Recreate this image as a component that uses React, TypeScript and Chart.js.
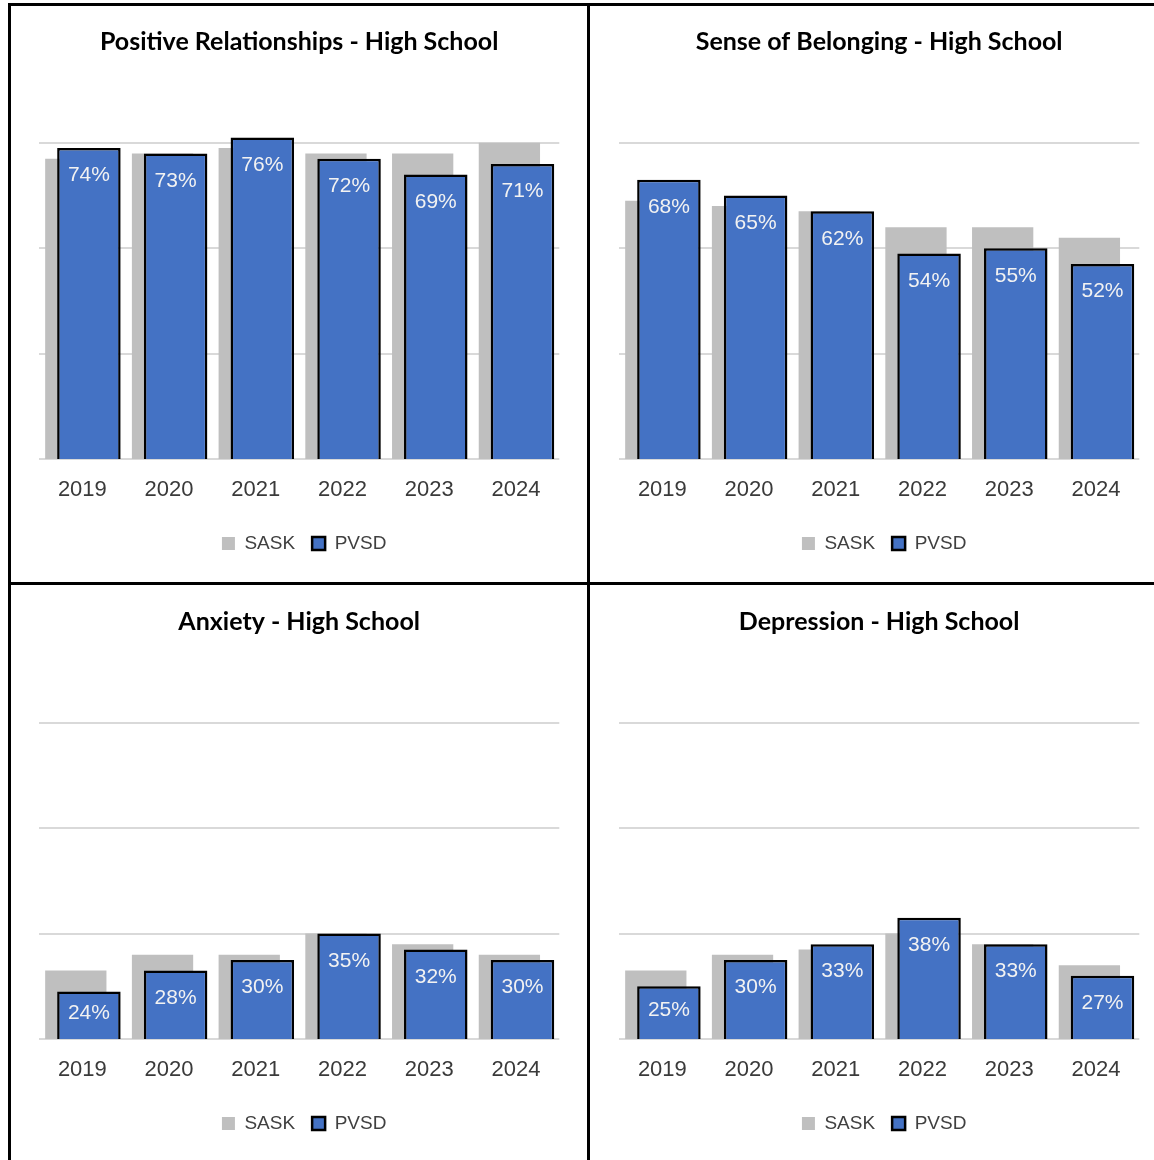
import React, { useEffect, useRef } from 'react';
import { Chart, registerables } from 'chart.js';

Chart.register(...registerables);

const years = ['2019', '2020', '2021', '2022', '2023', '2024'];
const seriesNames = ['SASK', 'PVSD'];
const gridTicks = [15, 35, 55, 75];
const axisMin = 15;
const axisMax = 80;

const relTitle = 'Positive Relationships - High School';
const relSask = [72, 73, 74, 73, 73, 75];
const relPvsd = [74, 73, 76, 72, 69, 71];

const belTitle = 'Sense of Belonging - High School';
const belSask = [64, 63, 62, 59, 59, 57];
const belPvsd = [68, 65, 62, 54, 55, 52];

const anxTitle = 'Anxiety - High School';
const anxSask = [28, 31, 31, 35, 33, 31];
const anxPvsd = [24, 28, 30, 35, 32, 30];

const depTitle = 'Depression - High School';
const depSask = [28, 31, 32, 35, 33, 29];
const depPvsd = [25, 30, 33, 38, 33, 27];

const SANS = "'Liberation Sans', Arial, sans-serif";

const pvsdLabelPlugin = {
  id: 'pvsdLabels',
  afterLayout(chart: any) {
    if (chart.legend) {
      chart.legend.left += 5;
      chart.legend.right += 5;
    }
  },
  beforeDatasetDraw(chart: any, args: any) {
    if (args.index === 1) return false;
    return undefined;
  },
  afterDatasetsDraw(chart: any) {
    const meta = chart.getDatasetMeta(1);
    const ctx = chart.ctx;
    const a = chart.chartArea;
    ctx.save();
    ctx.beginPath();
    ctx.rect(a.left, a.top - 20, a.right - a.left, a.bottom - a.top + 20);
    ctx.clip();
    meta.controller.draw();
    ctx.restore();
    ctx.save();
    ctx.font = '21px ' + SANS;
    ctx.fillStyle = '#f2f2f2';
    ctx.textAlign = 'center';
    ctx.textBaseline = 'middle';
    meta.data.forEach((bar: any, i: number) => {
      const p = bar.getProps(['x', 'y'], true);
      const h = a.bottom - p.y;
      const off = Math.min(27.5, h * 0.45);
      ctx.fillText(chart.data.datasets[1].data[i] + '%', p.x, p.y + off);
    });
    ctx.restore();
  },
};

function makeConfig(title: string, sask: number[], pvsd: number[]): any {
  return {
    type: 'bar',
    data: {
      labels: years,
      datasets: [
        {
          label: seriesNames[0],
          data: sask,
          backgroundColor: '#bfbfbf',
          borderWidth: 0,
          categoryPercentage: 0.302,
          barPercentage: 4.68,
        },
        {
          label: seriesNames[1],
          data: pvsd,
          backgroundColor: '#4472c4',
          borderColor: '#000000',
          borderWidth: 2.5,
          categoryPercentage: 0.302,
          barPercentage: 4.85,
        },
      ],
    },
    options: {
      responsive: false,
      animation: false,
      devicePixelRatio: 1,
      layout: { padding: { left: 28, right: 27.7, top: 0, bottom: 19 } },
      plugins: {
        title: {
          display: true,
          text: title,
          color: '#000000',
          font: { family: 'Lato', size: 25, weight: 'bold', lineHeight: 1.2 },
          padding: { top: 20.5, bottom: 60 },
        },
        legend: {
          position: 'bottom',
          labels: {
            boxWidth: 13,
            boxHeight: 13,
            padding: 17,
            color: '#404040',
            font: { family: SANS, size: 19 },
          },
        },
        tooltip: { enabled: false },
      },
      scales: {
        x: {
          grid: { display: false, drawTicks: false },
          border: { display: false },
          ticks: { color: '#3a3a3a', font: { family: SANS, size: 22 }, padding: 18 },
          afterFit: (s: any) => {
            s.height = 58;
          },
        },
        y: {
          min: axisMin,
          max: axisMax,
          afterBuildTicks: (s: any) => {
            s.ticks = gridTicks.map((v) => ({ value: v }));
          },
          ticks: { display: false },
          grid: { color: '#d9d9d9', lineWidth: 2, drawTicks: false },
          border: { display: false },
        },
      },
    },
    plugins: [pvsdLabelPlugin],
  };
}

function Panel(props: { left: number; top: number; title: string; sask: number[]; pvsd: number[] }) {
  const ref = useRef<HTMLCanvasElement | null>(null);
  useEffect(() => {
    if (!ref.current) return;
    const chart = new Chart(ref.current, makeConfig(props.title, props.sask, props.pvsd));
    return () => chart.destroy();
  }, [props.title, props.sask, props.pvsd]);
  return (
    <canvas
      ref={ref}
      width={576}
      height={576}
      style={{ position: 'absolute', left: props.left, top: props.top, width: 576, height: 576 }}
    />
  );
}

const line = (left: number, top: number, width: number, height: number) => (
  <div style={{ position: 'absolute', left, top, width, height, background: '#000' }} />
);

export default function App() {
  return (
    <div
      style={{
        position: 'absolute',
        left: 0,
        top: 0,
        width: 1154,
        height: 1160,
        overflow: 'hidden',
        background: '#ffffff',
      }}
    >
      <Panel left={11} top={6} title={relTitle} sask={relSask} pvsd={relPvsd} />
      <Panel left={591} top={6} title={belTitle} sask={belSask} pvsd={belPvsd} />
      <Panel left={11} top={586} title={anxTitle} sask={anxSask} pvsd={anxPvsd} />
      <Panel left={591} top={586} title={depTitle} sask={depSask} pvsd={depPvsd} />
      {line(8, 3, 1146, 3)}
      {line(8, 3, 3, 1157)}
      {line(587, 3, 3, 1157)}
      {line(8, 582, 1146, 3)}
    </div>
  );
}
